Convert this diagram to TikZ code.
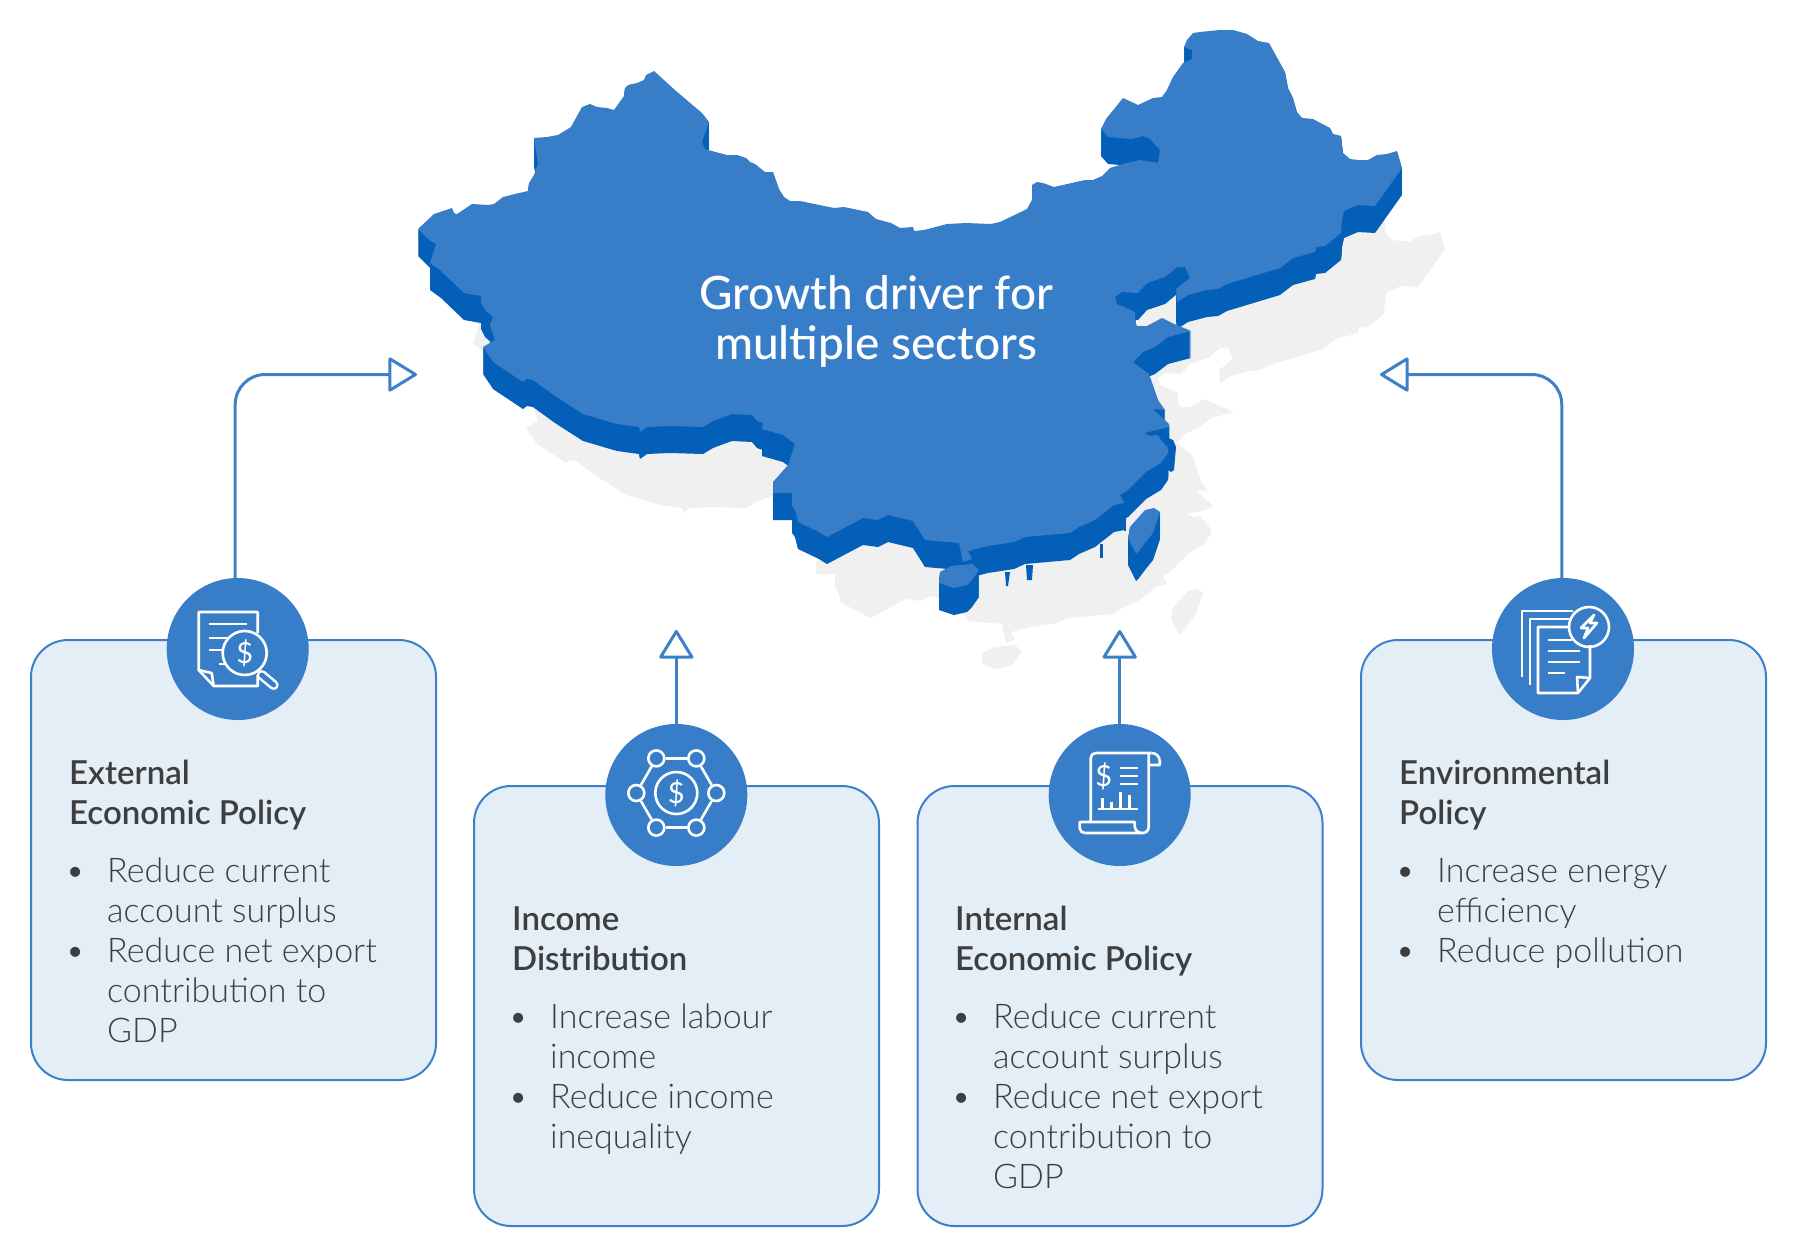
\documentclass[tikz,border=0pt]{standalone}
\usepackage{fontspec}
\usepackage{tikz}
\usetikzlibrary{arrows.meta}
\setmainfont{Lato}
\newfontfamily\lightfont{Lato Light}
\newfontfamily\semifont{Lato Semibold}
\newfontfamily\mediumfont{Lato Medium}
\definecolor{landtop}{HTML}{377DC8}
\definecolor{landside}{HTML}{045FB8}
\definecolor{landshade}{HTML}{F0F0F0}
\definecolor{cardfill}{HTML}{E4EEF7}
\definecolor{cardline}{HTML}{3B80C8}
\definecolor{cardtext}{HTML}{3E3E3E}
\newcommand{\itemdot}{\strut\llap{\textbullet\hspace{22pt}}}
\newcommand{\chinaland}{
	(418,229) -- (434,214) -- (452,208) -- (454,213) -- (457,214) -- (472,204) -- (488,205) -- (494,204) -- (503,197) -- (515,194) -- (528,191) -- (529,183) -- (534,175) -- (538,164) -- (534,138) -- (547,137) -- (558,135) -- (571,127) -- (582,107) -- (590,104) -- (597,107) -- (607,108) -- (614,110) -- (624,96) -- (625,88) -- (628,85) -- (637,83) -- (644,80) -- (646,75) -- (654,71) -- (676,91) -- (702,113) -- (709,122) -- (702,142) -- (705,149) -- (708,150) -- (727,155) -- (737,155) -- (746,158) -- (750,162) -- (755,164) -- (765,172) -- (773,172) -- (779,189) -- (784,197) -- (790,201) -- (800,201) -- (834,208) -- (844,207) -- (868,212) -- (876,219) -- (891,223) -- (900,228) -- (913,227) -- (914,231) -- (924,230) -- (947,224) -- (966,223) -- (991,224) -- (1000,222) -- (1027,209) -- (1032,200) -- (1032,185) -- (1037,182) -- (1043,183) -- (1054,187) -- (1085,180) -- (1093,180) -- (1102,176) -- (1110,168) -- (1123,164) -- (1140,160) -- (1158,163) -- (1160,150) -- (1150,139) -- (1143,136) -- (1132,139) -- (1108,137) -- (1101,129) -- (1106,119) -- (1123,98) -- (1138,105) -- (1153,98) -- (1162,97) -- (1167,90) -- (1173,77) -- (1183,63) -- (1192,59) -- (1192,50) -- (1184,47) -- (1187,40) -- (1193,33) -- (1200,32) -- (1220,30) -- (1233,30) -- (1247,34) -- (1258,41) -- (1269,43) -- (1285,72) -- (1288,88) -- (1293,98) -- (1297,112) -- (1302,118) -- (1313,119) -- (1330,128) -- (1333,134) -- (1341,136) -- (1343,153) -- (1350,159) -- (1358,160) -- (1368,160) -- (1377,155) -- (1387,154) -- (1397,151) -- (1402,168) -- (1375,206) -- (1358,205) -- (1344,211) -- (1342,220) -- (1341,233) -- (1325,246) -- (1316,247) -- (1315,252) -- (1293,258) -- (1280,268) -- (1227,284) -- (1218,289) -- (1207,290) -- (1188,295) -- (1177,302) -- (1176,289) -- (1190,278) -- (1185,267) -- (1177,267) -- (1165,277) -- (1147,283) -- (1138,293) -- (1122,292) -- (1115,297) -- (1117,304) -- (1135,312) -- (1135,322) -- (1137,326) -- (1147,326) -- (1162,318) -- (1172,323) -- (1191,331) -- (1168,337) -- (1155,347) -- (1143,352) -- (1133,362) -- (1149,374) -- (1158,400) -- (1165,410) -- (1153,409) -- (1169,424) -- (1169,427) -- (1144,433) -- (1150,436) -- (1157,435) -- (1168,448) -- (1168,453) -- (1161,463) -- (1146,472) -- (1128,490) -- (1120,495) -- (1124,503) -- (1114,505) -- (1095,520) -- (1079,527) -- (1070,533) -- (1025,537) -- (1014,542) -- (988,546) -- (968,551) -- (972,559) -- (963,562) -- (959,543) -- (925,540) -- (913,521) -- (888,515) -- (878,520) -- (863,518) -- (827,537) -- (819,532) -- (798,522) -- (795,510) -- (792,506) -- (792,493) -- (773,493) -- (773,482) -- (788,465) -- (795,444) -- (783,435) -- (762,429) -- (763,423) -- (757,421) -- (752,415) -- (732,414) -- (713,421) -- (703,427) -- (670,426) -- (647,427) -- (640,432) -- (639,427) -- (617,424) -- (583,414) -- (555,396) -- (533,380) -- (527,379) -- (523,382) -- (493,362) -- (483,347) -- (495,340) -- (490,325) -- (493,317) -- (485,310) -- (481,302) -- (481,296) -- (464,293) -- (441,271) -- (430,263) -- (436,244) -- (429,240) -- cycle
	(940,572) -- (951,566) -- (972,564) -- (979,570) -- (972,580) -- (967,585) -- (954,588) -- (939,583) -- cycle
	(1145,510) -- (1154,508) -- (1160,512) -- (1158,518) -- (1153,533) -- (1145,543) -- (1139,551) -- (1136,554) -- (1128,538) -- (1130,527) -- cycle
}
\begin{document}
\begin{tikzpicture}[x=1pt,y=-1pt,
	policy box/.style={draw=cardline,fill=cardfill,line width=2pt,rounded corners=37pt,minimum width=405pt,minimum height=440pt},
	icon disc/.style={circle,fill=landtop,minimum size=142pt,inner sep=0pt},
	head text/.style={anchor=north west,align=left,inner sep=0pt,text=cardtext,font=\semifont\fontsize{33}{40}\selectfont},
	item text/.style={anchor=north west,align=left,inner sep=0pt,text=cardtext,font=\lightfont\fontsize{34}{40}\selectfont},
	link/.style={draw=cardline,line width=3pt,-{Triangle[open,round,length=30pt,width=36pt]}},
	icon line/.style={draw=white,line width=2.6pt,line join=round},
	dollar/.style={text=white,inner sep=0pt,font=\fontsize{29}{30}\selectfont},
	hub/.style={circle,icon line,minimum size=16pt,inner sep=0pt}]

	\useasboundingbox (0,0) rectangle (1796,1258);

	\fill[landshade,shift={(43,81)}] \chinaland;
	\foreach \dy in {1,...,27}
		\fill[landside,shift={(0,\dy)}] \chinaland;
	\fill[landside] (1168,438) -- (1173,440) -- (1176,447) -- (1174,470) -- (1171,472) -- (1168,470) -- cycle;
	\fill[landside] (1124,518) -- (1126,518) -- (1126,531) -- (1124,531) -- cycle;
	\fill[landside] (1100,558) -- (1103,558) -- (1103,544) -- (1100,544) -- cycle;
	\fill[landside] (1026,565) -- (1033,565) -- (1032,580) -- (1027,580) -- cycle;
	\fill[landside] (1005,572) -- (1010,572) -- (1008,586) -- (1006,586) -- cycle;
	\fill[landtop] \chinaland;
	\node[text=white,align=center,inner sep=0pt,font=\mediumfont\fontsize{46}{50}\selectfont] (growth) at (876,321) {Growth driver for\\multiple sectors};

	\node[policy box] (extbox) at (233.5,860) {};
	\node[policy box] (incbox) at (676.5,1006) {};
	\node[policy box] (intbox) at (1120,1006) {};
	\node[policy box] (envbox) at (1563.5,860) {};

	\node[icon disc] (extdisc) at (237.7,649) {};
	\node[icon disc] (incdisc) at (676.3,795) {};
	\node[icon disc] (intdisc) at (1119.7,795) {};
	\node[icon disc] (envdisc) at (1563,649) {};

	\coordinate (extgoal) at (417,374.5);
	\coordinate (incgoal) at (676.3,630);
	\coordinate (intgoal) at (1119.7,630);
	\coordinate (envgoal) at (1380,374.5);

	\draw[link,rounded corners=30pt] (extdisc.92.4) |- (extgoal);
	\draw[link] (incdisc.north) -- (incgoal);
	\draw[link] (intdisc.north) -- (intgoal);
	\draw[link,rounded corners=30pt] (envdisc.91.6) |- (envgoal);

	\node[head text] (exthead) at (69,756) {\strut External\\Economic Policy};
	\node[item text] (extitems) at (107,854) {\itemdot Reduce current\\account surplus\\\itemdot Reduce net export\\contribution to\\GDP};
	\node[head text] (inchead) at (512,902) {\strut Income\\Distribution};
	\node[item text] (incitems) at (550,1000) {\itemdot Increase labour\\income\\\itemdot Reduce income\\inequality};
	\node[head text] (inthead) at (955,902) {\strut Internal\\Economic Policy};
	\node[item text] (intitems) at (993,1000) {\itemdot Reduce current\\account surplus\\\itemdot Reduce net export\\contribution to\\GDP};
	\node[head text] (envhead) at (1399,756) {\strut Environmental\\Policy};
	\node[item text] (envitems) at (1437,854) {\itemdot Increase energy\\efficiency\\\itemdot Reduce pollution};

	\begin{scope}[shift={(extdisc.center)}]
		\draw[icon line] (20,-16) -- (20,-37) -- (-39,-37) -- (-39,21) -- (-24,37) -- (20,37) -- (20,26);
		\draw[icon line] (-39,21) -- (-26,24) -- (-24,37);
		\draw[icon line] (-29,-25) -- (9,-25);
		\draw[icon line] (-29,-11) -- (-9,-11);
		\draw[icon line] (-29,1) -- (-15,1);
		\draw[icon line] (-19,15) -- (-11,15);
		\draw[icon line] (7,4) circle (22);
		\draw[white,line width=10pt,line cap=round] (24,26) -- (36,36);
		\draw[landtop,line width=5pt,line cap=round] (24,26) -- (36,36);
		\node[dollar] (extcash) at (7,4) {\$};
	\end{scope}

	\begin{scope}[shift={(incdisc.center)},yshift=2pt]
		\foreach \a in {0,60,...,300}
			\node[hub] (hub\a) at (\a:40) {};
		\foreach \a/\b in {0/60,60/120,120/180,180/240,240/300,300/0}
			\draw[icon line] (hub\a) -- (hub\b);
		\node[circle,icon line,minimum size=42pt,inner sep=0pt] (inchub) at (0,0) {};
		\node[dollar] (inccash) at (0,0) {\$};
	\end{scope}

	\begin{scope}[shift={(intdisc.center)}]
		\draw[icon line,rounded corners=5pt] (-29,27) -- (-29,-42) -- (32,-42);
		\draw[icon line] (32,-42) arc (-90:0:8) -- (40,-30) -- (29,-30);
		\draw[icon line,rounded corners=6pt] (29,-42) -- (29,38) -- (-35,38);
		\draw[icon line] (-35,38) arc (90:180:5) -- (-40,27) -- (15,27) -- (15,31) arc (180:90:7);
		\node[dollar] (intcash) at (-16,-19) {\$};
		\draw[icon line] (0,-27) -- (18,-27);
		\draw[icon line] (0,-19) -- (18,-19);
		\draw[icon line] (0,-11) -- (18,-11);
		\draw[icon line] (-22,14) -- (18,14);
		\draw[icon line] (-17,14) -- (-17,3);
		\draw[icon line] (-8,14) -- (-8,7);
		\draw[icon line] (1,14) -- (1,-3);
		\draw[icon line] (10,14) -- (10,0);
	\end{scope}

	\begin{scope}[shift={(envdisc.center)}]
		\draw[icon line] (-41,28) -- (-41,-38) -- (10,-38);
		\draw[icon line] (-33,36) -- (-33,-30) -- (7,-30);
		\draw[icon line] (7,-22) -- (-25,-22) -- (-25,44) -- (15,44) -- (27,29) -- (27,-4);
		\draw[icon line] (27,29) -- (14,28) -- (15,44);
		\draw[icon line] (-15,-9) -- (9,-9);
		\draw[icon line] (-15,2) -- (17,2);
		\draw[icon line] (-15,13) -- (17,13);
		\draw[icon line] (-15,24) -- (2,24);
		\draw[icon line] (26,-22) circle (20);
		\draw[icon line] (31,-34) -- (18,-21) -- (25,-21) -- (21,-11) -- (34,-26) -- (27,-26) -- cycle;
	\end{scope}
\end{tikzpicture}
\end{document}
